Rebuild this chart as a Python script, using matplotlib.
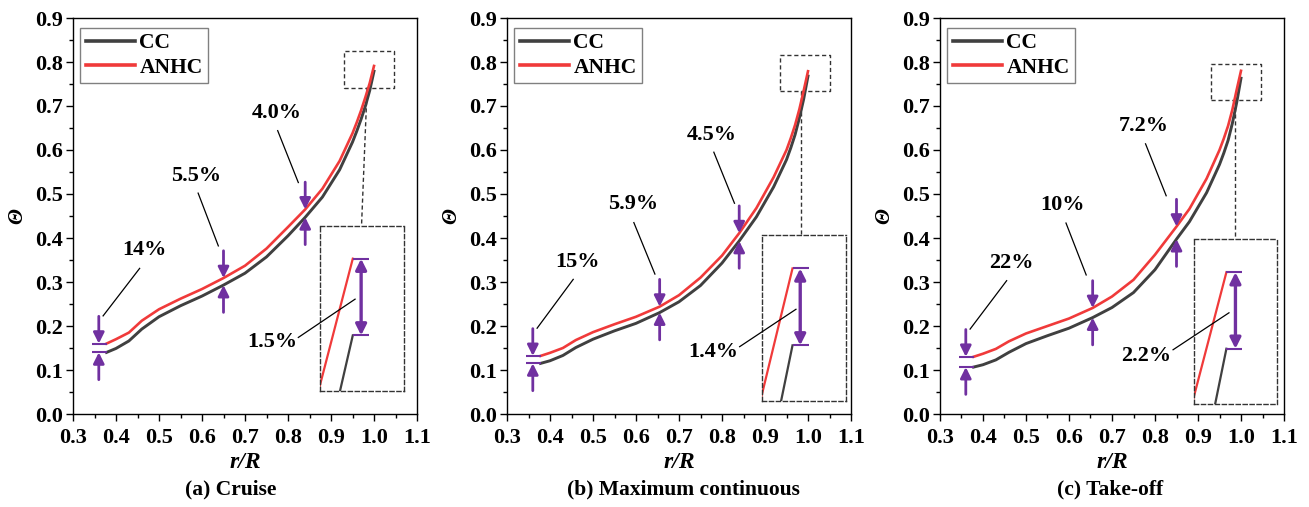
import numpy as np
import matplotlib
matplotlib.use('Agg')
import matplotlib.pyplot as plt
from matplotlib.ticker import MultipleLocator, AutoMinorLocator, FormatStrFormatter

plt.rcParams['font.family'] = ['Liberation Serif', 'DejaVu Serif']
plt.rcParams['font.weight'] = 'bold'

#%% Twist distributions, CC vs ANHC
x_cruise = [0.378, 0.40, 0.43, 0.46, 0.50, 0.55, 0.60, 0.65, 0.70, 0.75, 0.80, 0.84,
            0.88, 0.92, 0.95, 0.96, 0.97, 0.98, 0.99, 1.00]
cc_cruise = [0.140, 0.149, 0.166, 0.193, 0.221, 0.246, 0.268, 0.293, 0.320, 0.357, 0.405, 0.447,
             0.493, 0.555, 0.618, 0.643, 0.670, 0.700, 0.735, 0.779]
anhc_cruise = [0.160, 0.170, 0.185, 0.212, 0.238, 0.262, 0.284, 0.309, 0.337, 0.376, 0.425, 0.465,
               0.512, 0.575, 0.638, 0.663, 0.690, 0.720, 0.752, 0.791]
gaps_cruise = ['14%', '5.5%', '4.0%', '1.5%']
gap_x_cruise = [0.378, 0.65, 0.84, 1.00]

x_mcont = [0.378, 0.40, 0.43, 0.46, 0.50, 0.55, 0.60, 0.655, 0.70, 0.75, 0.80, 0.84,
           0.88, 0.92, 0.95, 0.96, 0.97, 0.98, 0.99, 1.00]
cc_mcont = [0.115, 0.121, 0.133, 0.151, 0.170, 0.189, 0.206, 0.2305, 0.255, 0.292, 0.343, 0.3932,
            0.448, 0.516, 0.578, 0.605, 0.635, 0.673, 0.716, 0.768]
anhc_mcont = [0.132, 0.139, 0.150, 0.168, 0.186, 0.204, 0.221, 0.244, 0.270, 0.310, 0.360, 0.411,
              0.468, 0.538, 0.600, 0.627, 0.657, 0.693, 0.735, 0.779]
gaps_mcont = ['15%', '5.9%', '4.5%', '1.4%']
gap_x_mcont = [0.378, 0.655, 0.84, 1.00]

x_takeoff = [0.378, 0.40, 0.43, 0.46, 0.50, 0.55, 0.60, 0.655, 0.70, 0.75, 0.80, 0.85,
             0.88, 0.92, 0.95, 0.96, 0.97, 0.98, 0.99, 1.00]
cc_takeoff = [0.1066, 0.112, 0.123, 0.140, 0.160, 0.178, 0.195, 0.2191, 0.242, 0.276, 0.328, 0.3974,
              0.437, 0.503, 0.567, 0.593, 0.622, 0.661, 0.708, 0.7632]
anhc_takeoff = [0.130, 0.137, 0.148, 0.165, 0.183, 0.200, 0.217, 0.241, 0.267, 0.305, 0.362, 0.426,
                0.466, 0.535, 0.600, 0.626, 0.655, 0.692, 0.737, 0.780]
gaps_takeoff = ['22%', '10%', '7.2%', '2.2%']
gap_x_takeoff = [0.378, 0.655, 0.85, 1.00]

titles = ['(a) Cruise', '(b) Maximum continuous', '(c) Take-off']

#%% Styling / layout
CC_COLOR = '#404040'
ANHC_COLOR = '#F03A3A'
PURPLE = '#7030A0'
DASH = (0, (3, 2))

layouts = [
    dict(left=73, title_x=231,
         text_xy=[(0.465, 0.373), (0.587, 0.541), (0.774, 0.684), (0.764, 0.163)],
         leaders=[((0.455, 0.331), (0.370, 0.223)), ((0.591, 0.502), (0.638, 0.382)),
                  ((0.776, 0.644), (0.824, 0.526)), ((0.824, 0.174), (0.956, 0.261))],
         src_box=(0.931, 1.046, 0.742, 0.826), zoom_box=(0.875, 1.069, 0.053, 0.428),
         link=((0.984, 0.742), (0.971, 0.428)), end_frac=0.39, arrow_frac=0.49, cap_frac=0.58),
    dict(left=507, title_x=683,
         text_xy=[(0.463, 0.346), (0.593, 0.478), (0.777, 0.635), (0.780, 0.140)],
         leaders=[((0.454, 0.306), (0.370, 0.195)), ((0.595, 0.435), (0.644, 0.318)),
                  ((0.781, 0.595), (0.829, 0.479)), ((0.841, 0.153), (0.972, 0.238))],
         src_box=(0.935, 1.050, 0.733, 0.817), zoom_box=(0.893, 1.088, 0.030, 0.406),
         link=((0.983, 0.733), (0.983, 0.406)), end_frac=0.364, arrow_frac=0.456, cap_frac=0.564),
    dict(left=940, title_x=1110,
         text_xy=[(0.465, 0.343), (0.585, 0.475), (0.775, 0.654), (0.780, 0.131)],
         leaders=[((0.455, 0.303), (0.370, 0.193)), ((0.593, 0.434), (0.640, 0.316)),
                  ((0.778, 0.614), (0.826, 0.496)), ((0.842, 0.146), (0.972, 0.230))],
         src_box=(0.931, 1.047, 0.713, 0.796), zoom_box=(0.890, 1.083, 0.023, 0.397),
         link=((0.986, 0.713), (0.986, 0.397)), end_frac=0.394, arrow_frac=0.503, cap_frac=0.585),
]

data = [
    (x_cruise, cc_cruise, anhc_cruise, gaps_cruise, gap_x_cruise),
    (x_mcont, cc_mcont, anhc_mcont, gaps_mcont, gap_x_mcont),
    (x_takeoff, cc_takeoff, anhc_takeoff, gaps_takeoff, gap_x_takeoff),
]

W, H = 1309, 507
fig = plt.figure(figsize=(W / 100, H / 100), dpi=100)


def gap_arrow(axis, xa, y_tip, y_tail, lw=2.0, style='-|>'):
    axis.annotate('', xy=(xa, y_tip), xytext=(xa, y_tail),
                  arrowprops=dict(arrowstyle=style, color=PURPLE, lw=lw,
                                  mutation_scale=16, shrinkA=0, shrinkB=0))


for k, ((x, cc, anhc, gaps, gap_x), lay) in enumerate(zip(data, layouts)):
    x = np.array(x)
    cc = np.array(cc)
    anhc = np.array(anhc)

    ax = fig.add_axes([lay['left'] / W, 93 / H, 344 / W, 396 / H])
    ax.plot(x, cc, color=CC_COLOR, lw=2.1, label='CC', zorder=3)
    ax.plot(x, anhc, color=ANHC_COLOR, lw=1.9, label='ANHC', zorder=3)

    ax.set_xlim(0.3, 1.1)
    ax.set_ylim(0.0, 0.9)
    ax.xaxis.set_major_locator(MultipleLocator(0.1))
    ax.yaxis.set_major_locator(MultipleLocator(0.1))
    ax.xaxis.set_minor_locator(AutoMinorLocator(2))
    ax.yaxis.set_minor_locator(AutoMinorLocator(2))
    ax.xaxis.set_major_formatter(FormatStrFormatter('%.1f'))
    ax.yaxis.set_major_formatter(FormatStrFormatter('%.1f'))
    ax.tick_params(which='major', direction='out', length=5, width=1.0, labelsize=16, pad=2)
    ax.tick_params(axis='x', which='major', pad=5)
    ax.tick_params(which='minor', direction='out', length=3, width=1.0)
    for s in ax.spines.values():
        s.set_linewidth(1.0)
    ax.set_xlabel('r/R', fontsize=17, fontstyle='italic', fontweight='bold', labelpad=3)
    ax.set_ylabel('Θ', fontsize=15, fontstyle='italic', fontweight='bold', labelpad=6)

    leg = ax.legend(loc='upper left', bbox_to_anchor=(0.021, 0.975), borderaxespad=0,
                    fancybox=False, framealpha=1, edgecolor='#808080', fontsize=15.5,
                    handlelength=2.3, handletextpad=0.2, borderpad=0.25, labelspacing=0.2)
    leg.get_frame().set_linewidth(1.0)
    for line in leg.get_lines():
        line.set_linewidth(2.6)

    # gap markers along the span
    idx = [int(np.argmin(np.abs(x - g))) for g in gap_x]
    i0 = idx[0]
    ax.hlines([anhc[i0], cc[i0]], 0.345, 0.38, color=PURPLE, lw=1.5, zorder=4)
    for n, i in enumerate(idx[:3]):
        xa = 0.36 if n == 0 else x[i]
        gap_arrow(ax, xa, anhc[i], anhc[i] + 0.062)
        gap_arrow(ax, xa, cc[i], cc[i] - 0.062)

    for txt, (tx, ty), (p0, p1) in zip(gaps, lay['text_xy'], lay['leaders']):
        ax.text(tx, ty, txt, ha='center', va='center', fontsize=16, fontweight='bold')
        ax.plot([p0[0], p1[0]], [p0[1], p1[1]], color='black', lw=0.9, zorder=6)

    # dashed source box at the tip and the connector
    sx0, sx1, sy0, sy1 = lay['src_box']
    ax.plot([sx0, sx1, sx1, sx0, sx0], [sy0, sy0, sy1, sy1, sy0],
            color='#333333', lw=1.0, ls=DASH, zorder=2)
    (lx0, ly0), (lx1, ly1) = lay['link']
    ax.plot([lx0, lx1], [ly0, ly1], color='#333333', lw=1.0, ls=DASH, zorder=2)

    # magnified tip
    bx0, bx1, by0, by1 = lay['zoom_box']
    ins = ax.inset_axes([bx0, by0, bx1 - bx0, by1 - by0], transform=ax.transData)
    ins.patch.set_alpha(0)
    ins.set_xticks([])
    ins.set_yticks([])
    for s in ins.spines.values():
        s.set_linestyle(DASH)
        s.set_edgecolor('#333333')
        s.set_linewidth(1.0)
    ins.plot(x, cc, color=CC_COLOR, lw=1.6)
    ins.plot(x, anhc, color=ANHC_COLOR, lw=1.6)

    span = (anhc[-1] - cc[-1]) / (0.80 - 0.335)
    ylo = cc[-1] - 0.335 * span
    ins.set_ylim(ylo, ylo + span)
    slope = (anhc[-1] - anhc[-2]) / (x[-1] - x[-2])
    sx = (0.80 - 0.04) * span / (slope * lay['end_frac'])
    xlo = x[-1] - lay['end_frac'] * sx
    ins.set_xlim(xlo, xlo + sx)

    x_cap = xlo + lay['cap_frac'] * sx
    ins.hlines([anhc[-1], cc[-1]], x[-1], x_cap, color=PURPLE, lw=1.5)
    xa = xlo + lay['arrow_frac'] * sx
    gap_arrow(ins, xa, cc[-1], anhc[-1], lw=2.4, style='<|-|>')

    fig.text(lay['title_x'] / W, 1 - 489 / H, titles[k], ha='center', va='center',
             fontsize=15.5, fontweight='bold')

fig.savefig('out.png', dpi=100)
